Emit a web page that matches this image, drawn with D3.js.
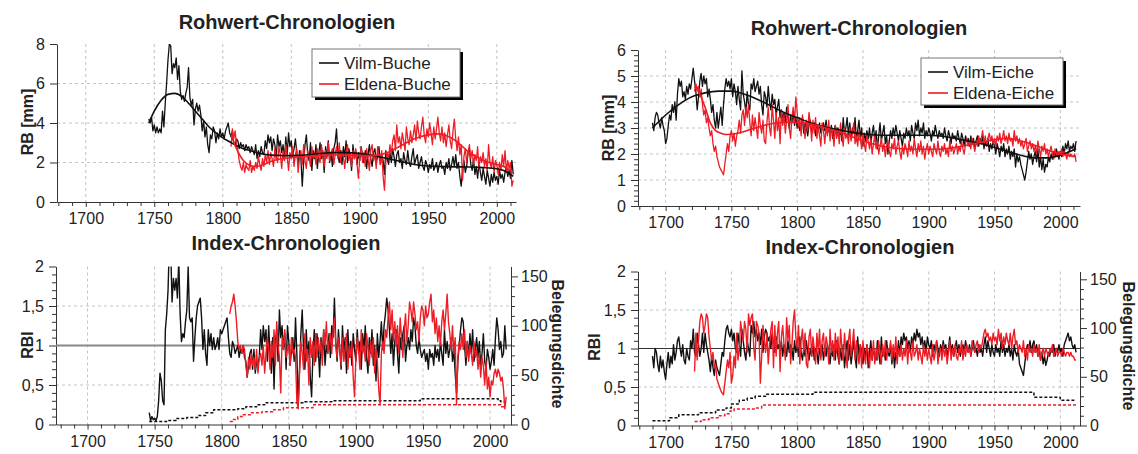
<!DOCTYPE html>
<html>
<head>
<meta charset="utf-8">
<script src="https://cdn.jsdelivr.net/npm/d3@7"></script>
<style>
  body { margin: 0; background: #fff; }
  svg { display: block; }
</style>
</head>
<body>
<svg id="chart" width="1138" height="454"></svg>
<script>
// ---------- data: raw ring widths (mm), one value per year ----------
const vilmBucheStart = 1746
const vilmBucheRaw = [
  4.2, 4.0, 4.3, 3.6,
  3.9, 3.5, 3.8, 3.5, 3.7, 3.5, 4.6, 3.8, 5.0, 6.0,
  7.2, 8.0, 7.9, 6.5, 7.0, 6.8, 7.3, 6.2, 6.9, 5.6,
  5.2, 5.4, 5.1, 5.5, 5.8, 6.8, 5.3, 4.9, 5.2, 3.9,
  4.7, 5.0, 4.6, 4.9, 4.4, 3.6, 4.1, 3.3, 3.8, 2.9,
  2.5, 3.4, 3.2, 3.8, 3.6, 3.0, 3.5, 3.2, 3.7, 3.3,
  3.5, 3.2, 3.6, 3.8, 4.0, 3.5, 3.3, 3.6, 3.0, 2.9,
  3.2, 3.1, 2.7, 3.0, 2.8, 2.9, 2.6, 2.9, 2.7, 2.8,
  2.5, 2.8, 2.6, 2.4, 2.9, 2.2, 2.6, 2.3, 2.8, 2.5,
  2.4, 3.1, 2.7, 3.4, 3.0, 3.3, 2.6, 3.2, 2.9, 2.2,
  3.4, 2.8, 3.1, 2.5, 2.9, 2.1, 3.3, 2.4, 3.5, 2.8,
  3.1, 2.3, 2.7, 3.2, 2.5, 1.9, 2.6, 2.2, 0.8, 2.0,
  2.9, 3.4, 2.4, 2.1, 3.0, 1.6, 2.6, 2.2, 2.9, 1.7,
  2.4, 3.0, 2.2, 2.6, 1.5, 2.8, 2.3, 3.1, 2.0, 2.5,
  1.8, 2.7, 3.0, 3.7, 2.4, 2.0, 2.6, 1.9, 2.8, 2.3,
  3.1, 2.0, 2.7, 2.4, 1.6, 2.9, 2.2, 2.6, 1.9, 2.5,
  2.1, 2.8, 2.3, 2.0, 2.6, 1.7, 2.4, 2.9, 2.2, 1.8,
  2.5, 2.7, 2.0, 2.3, 2.8, 1.9, 2.4, 2.1, 1.4, 2.6,
  2.2, 1.9, 2.5, 2.0, 2.7, 2.3, 1.8, 2.4, 2.6, 2.0,
  2.2, 1.7, 2.5, 2.1, 1.9, 2.6, 2.0, 1.8, 2.3, 2.7,
  1.9, 2.2, 2.4, 1.7, 2.0, 2.3, 1.8, 1.6, 2.1, 1.9,
  1.5, 1.9, 1.7, 2.2, 1.6, 1.8, 2.0, 1.5, 1.9, 2.1,
  1.7, 1.8, 1.4, 2.0, 1.7, 2.2, 1.6, 1.9, 2.3, 1.8,
  2.4, 1.7, 2.0, 1.3, 0.8, 1.6, 2.1, 1.5, 1.8, 2.5,
  2.7, 1.9, 1.6, 2.2, 1.4, 1.8, 1.2, 2.0, 1.5, 1.1,
  1.7, 1.3, 0.9, 1.6, 1.2, 0.8, 1.4, 1.0, 1.5, 1.1,
  1.3, 0.9, 1.6, 1.2, 1.4, 1.0, 1.5, 1.8, 1.3, 1.6,
  1.2, 2.1, 1.4
]
const vilmBucheSmoothYears = [1746, 1750, 1755, 1760, 1765, 1770, 1775, 1780, 1785, 1790, 1795, 1800, 1805, 1810, 1815, 1820, 1825, 1830, 1840, 1850, 1860, 1870, 1880, 1890, 1900, 1910, 1920, 1930, 1940, 1950, 1960, 1970, 1980, 1990, 2000, 2005, 2012]
const vilmBucheSmooth = [4.0, 4.6, 5.15, 5.45, 5.5, 5.35, 5.0, 4.6, 4.2, 3.8, 3.5, 3.25, 3.05, 2.85, 2.7, 2.6, 2.5, 2.42, 2.36, 2.35, 2.38, 2.45, 2.5, 2.5, 2.45, 2.35, 2.2, 2.05, 1.9, 1.82, 1.8, 1.78, 1.77, 1.74, 1.68, 1.6, 1.3]

const eldenaBucheStart = 1806
const eldenaBucheRaw = [
  2.8, 3.7, 3.2, 3.6,
  2.9, 2.6, 2.1, 1.8, 1.6, 2.0, 1.5, 1.9, 1.7, 1.6,
  2.1, 1.5, 1.8, 1.6, 2.0, 1.7, 2.3, 1.9, 1.6, 2.2,
  1.8, 2.4, 2.0, 2.6, 1.9, 2.5, 2.2, 1.8, 2.7, 2.3,
  2.0, 2.8, 2.4, 1.7, 2.6, 2.1, 2.9, 2.3, 1.6, 2.5,
  2.2, 2.8, 1.8, 2.4, 2.7, 1.5, 2.3, 2.6, 1.9, 2.9,
  2.1, 1.7, 2.6, 2.3, 1.8, 2.8, 2.2, 2.5, 1.9, 2.7,
  2.3, 2.0, 2.9, 2.4, 1.8, 2.6, 2.2, 3.0, 2.1, 2.5,
  2.7, 1.9, 2.4, 2.8, 2.2, 3.0, 2.0, 2.6, 2.3, 1.7,
  2.5, 2.9, 2.1, 2.4, 1.8, 2.6, 2.2, 2.7, 1.9, 1.2,
  2.3, 2.8, 2.0, 2.5, 1.8, 2.7, 2.2, 1.6, 2.6, 2.9,
  2.1, 2.4, 1.7, 2.8, 2.3, 1.9, 2.6, 1.3, 0.6, 2.0,
  2.5, 2.2, 2.9, 2.4, 3.1, 3.4, 2.6, 3.9, 3.0, 3.3,
  2.7, 3.5, 3.1, 2.6, 3.8, 3.2, 2.9, 3.6, 3.0, 3.4,
  3.9, 3.1, 4.1, 3.5, 3.2, 3.8, 4.3, 3.4, 3.0, 3.7,
  3.3, 4.0, 3.5, 2.9, 3.8, 3.2, 3.7, 4.3, 3.5, 3.1,
  3.8, 3.0, 3.5, 2.8, 3.4, 3.9, 3.1, 2.7, 3.6, 4.2,
  3.2, 2.6, 3.3, 2.4, 2.9, 1.1, 2.3, 2.7, 2.0, 2.5,
  2.9, 2.2, 2.6, 1.9, 2.4, 2.1, 2.8, 1.7, 2.3, 2.0,
  2.5, 1.8, 2.2, 1.6, 2.9, 2.0, 1.7, 2.3, 1.5, 2.1,
  1.9, 1.4, 2.0, 1.6, 2.4, 1.8, 2.6, 1.5, 2.1, 1.7,
  2.0, 0.8, 1.1
]
const eldenaBucheSmoothYears = [1806, 1810, 1815, 1820, 1825, 1830, 1835, 1840, 1850, 1860, 1870, 1880, 1890, 1900, 1910, 1920, 1930, 1940, 1950, 1958, 1965, 1970, 1975, 1980, 1985, 1990, 1995, 2000, 2005, 2012]
const eldenaBucheSmooth = [3.4, 2.7, 2.1, 1.85, 1.8, 1.9, 2.05, 2.15, 2.25, 2.3, 2.35, 2.38, 2.38, 2.35, 2.35, 2.5, 2.85, 3.2, 3.4, 3.45, 3.3, 3.1, 2.8, 2.5, 2.3, 2.1, 2.0, 1.9, 1.8, 1.5]

const vilmEicheStart = 1690
const vilmEicheRaw = [
  3.2, 2.9, 3.4, 3.6, 3.5, 3.2, 3.0, 3.4, 3.1, 2.9,
  2.4, 2.6, 3.1, 3.5, 3.3, 3.9, 3.6, 4.0, 3.3, 4.3,
  4.9, 4.6, 4.8, 4.2, 4.4, 4.1, 4.6, 4.3, 4.7, 4.5,
  4.9, 5.3, 4.8, 4.4, 3.7, 4.2, 4.8, 5.1, 4.6, 5.0,
  4.7, 4.9, 4.2, 4.5, 4.1, 3.6, 3.9, 3.3, 3.0, 3.6,
  3.0, 3.4, 3.8, 3.1, 3.9, 4.5, 4.9, 4.6, 4.8, 4.5,
  4.9, 4.2, 4.7, 4.4, 3.9, 4.6, 4.1, 3.7, 5.2, 4.3,
  4.0, 3.6, 4.4, 3.9, 3.7, 4.7, 4.5, 4.9, 4.4, 4.6,
  4.8, 4.3, 4.6, 3.9, 3.5, 4.4, 4.2, 3.8, 4.6, 4.0,
  3.7, 4.3, 3.9, 4.1, 3.5, 3.8, 4.1, 3.4, 3.7, 3.3,
  3.6, 3.2, 3.8, 3.4, 3.0, 3.5, 3.2, 3.6, 3.1, 3.4,
  3.0, 3.3, 2.9, 3.1, 3.4, 2.8, 3.2, 3.0, 2.7, 3.1,
  3.3, 2.8, 3.0, 3.2, 2.7, 3.1, 2.9, 3.2, 2.8, 3.0,
  3.2, 2.9, 3.3, 2.8, 3.0, 2.7, 3.1, 2.6, 2.9, 3.1,
  2.8, 3.0, 2.7, 2.9, 2.5, 3.4, 2.8, 3.0, 3.4, 2.7,
  3.2, 2.6, 3.0, 2.8, 3.4, 2.5, 2.9, 3.3, 2.6, 3.0,
  2.3, 2.8, 2.5, 2.9, 2.6, 3.0, 2.4, 2.8, 3.1, 2.5,
  2.9, 2.2, 2.7, 3.2, 2.5, 2.8, 3.1, 2.4, 2.7, 2.0,
  2.5, 2.9, 2.6, 3.0, 2.7, 3.1, 2.8, 2.5, 2.9, 2.6,
  2.3, 2.8, 2.6, 3.0, 2.7, 2.9, 2.5, 3.1, 2.8, 2.6,
  3.2, 2.9, 3.3, 2.7, 3.0, 2.8, 3.2, 2.6, 2.9, 2.7,
  3.0, 2.8, 2.5, 2.9, 2.7, 3.1, 2.8, 2.6, 2.9, 2.7,
  2.8, 2.6, 3.0, 2.7, 2.5, 2.9, 2.7, 2.4, 2.8, 2.6,
  2.7, 2.5, 2.9, 2.6, 2.4, 2.8, 2.6, 2.3, 2.7, 2.5,
  2.6, 2.3, 2.7, 2.4, 2.6, 2.2, 2.5, 2.7, 2.3, 2.6,
  2.4, 2.7, 2.2, 2.5, 2.3, 2.6, 2.1, 2.4, 2.2, 2.5,
  2.3, 2.0, 2.4, 2.2, 1.9, 2.3, 2.1, 2.4, 1.9, 2.2,
  2.0, 2.3, 1.8, 2.1, 1.9, 2.2, 1.5, 2.0, 1.7, 1.9,
  1.6, 1.4, 1.2, 1.0, 1.3, 1.7, 2.1, 1.8, 2.0, 1.6,
  1.9, 2.1, 1.7, 2.2, 1.5, 1.9, 1.4, 1.8, 1.3, 1.6,
  1.5, 1.9, 1.7, 2.0, 1.8, 2.1, 1.9, 2.2, 2.0, 1.8,
  2.1, 1.9, 2.3, 2.0, 2.4, 2.2, 2.5, 2.1, 2.3, 2.2,
  2.4, 2.1, 2.5
]
const vilmEicheSmoothYears = [1690, 1700, 1710, 1720, 1730, 1740, 1750, 1760, 1770, 1780, 1790, 1800, 1810, 1820, 1830, 1840, 1850, 1860, 1870, 1880, 1890, 1900, 1910, 1920, 1930, 1940, 1950, 1960, 1970, 1980, 1990, 2000, 2012]
const vilmEicheSmooth = [3.0, 3.5, 3.9, 4.2, 4.35, 4.42, 4.42, 4.3, 4.1, 3.85, 3.6, 3.4, 3.2, 3.05, 2.95, 2.85, 2.78, 2.73, 2.72, 2.72, 2.72, 2.72, 2.68, 2.6, 2.5, 2.4, 2.25, 2.1, 1.95, 1.85, 1.85, 1.95, 2.2]

const eldenaEicheStart = 1722
const eldenaEicheRaw = [
  4.4, 4.7, 4.5, 4.6, 4.2, 4.5, 3.9, 3.5,
  3.7, 3.2, 3.4, 3.0, 2.7, 2.9, 2.4, 2.1, 2.3, 1.9,
  1.7, 1.5, 1.4, 1.3, 1.2, 1.6, 2.0, 2.4, 2.1, 2.7,
  2.9, 2.5, 2.8, 2.3, 2.7, 2.9, 3.3, 2.8, 3.5, 3.7,
  3.1, 3.8, 3.4, 3.9, 3.2, 2.7, 3.5, 2.9, 3.4, 3.0,
  2.6, 3.6, 3.1, 2.8, 3.3, 2.5, 2.4, 3.2, 3.8, 3.0,
  2.7, 3.9, 3.3, 2.6, 3.6, 2.9, 3.4, 2.4, 3.7, 3.1,
  3.5, 2.8, 3.3, 3.9, 3.0, 2.6, 3.4, 3.8, 3.2, 4.2,
  3.6, 3.0, 3.4, 2.7, 3.5, 3.1, 2.6, 3.3, 2.9, 3.6,
  3.2, 2.5, 3.3, 2.8, 3.4, 2.6, 3.1, 2.7, 2.3, 3.2,
  2.9, 2.4, 3.1, 2.7, 3.3, 2.5, 3.0, 2.8, 2.3, 3.1,
  2.6, 2.9, 2.4, 3.2, 2.7, 2.3, 3.0, 2.6, 2.8, 2.4,
  3.0, 2.5, 2.8, 3.2, 2.4, 2.7, 2.3, 2.9, 2.6, 2.2,
  2.8, 2.4, 2.1, 2.7, 2.5, 2.2, 2.6, 2.0, 2.4, 2.7,
  2.2, 2.5, 2.0, 2.3, 2.6, 2.1, 2.4, 1.9, 2.3, 2.5,
  2.1, 1.9, 2.4, 2.2, 2.6, 2.0, 2.3, 2.5, 2.1, 1.8,
  2.3, 2.0, 2.4, 2.2, 1.9, 2.5, 2.1, 2.3, 2.0, 2.6,
  2.2, 1.9, 2.4, 2.1, 2.5, 2.0, 2.3, 1.8, 2.2, 2.4,
  2.0, 2.3, 2.1, 1.9, 2.4, 2.2, 2.0, 2.5, 2.1, 1.9,
  2.3, 2.1, 2.4, 2.0, 2.2, 1.9, 2.5, 2.1, 2.3, 2.0,
  2.2, 2.4, 2.0, 2.3, 2.1, 2.5, 2.2, 2.0, 2.4, 2.6,
  2.3, 2.5, 2.2, 2.6, 2.4, 2.1, 2.5, 2.3, 2.7, 2.4,
  2.6, 2.9, 2.4, 2.7, 2.3, 2.6, 2.8, 2.5, 2.7, 2.4,
  2.6, 2.3, 2.7, 2.5, 2.8, 2.4, 2.6, 2.9, 2.5, 2.7,
  2.4, 2.8, 2.5, 2.6, 2.3, 2.9, 2.5, 2.7, 2.4, 2.6,
  2.3, 2.5, 2.2, 2.4, 2.6, 2.1, 2.3, 2.5, 2.2, 2.4,
  2.1, 2.3, 2.0, 2.5, 2.2, 1.9, 2.3, 2.1, 2.4, 2.0,
  2.2, 1.9, 2.1, 2.3, 2.0, 1.8, 2.2, 2.0, 1.9, 2.1,
  2.0, 2.2, 1.9, 2.1, 2.0, 1.8, 2.1, 1.9, 2.0, 1.9,
  1.9, 2.0, 1.7
]
const eldenaEicheSmoothYears = [1722, 1726, 1730, 1734, 1738, 1742, 1746, 1755, 1765, 1775, 1785, 1795, 1805, 1815, 1825, 1835, 1845, 1855, 1865, 1875, 1890, 1905, 1920, 1935, 1950, 1960, 1970, 1980, 1990, 2000, 2012]
const eldenaEicheSmooth = [4.6, 4.3, 3.8, 3.2, 2.9, 2.8, 2.75, 2.8, 2.95, 3.1, 3.2, 3.22, 3.2, 3.1, 2.95, 2.8, 2.6, 2.42, 2.3, 2.22, 2.18, 2.18, 2.25, 2.4, 2.55, 2.6, 2.5, 2.35, 2.15, 2.0, 1.9]

// ---------- data: index chronologies (RBI) ----------
const vilmBucheIndex = [
  0.15, 0.05, 0.1, 0.06,
  0.08, 0.05, 0.1, 0.3, 0.65, 0.55, 0.3, 0.25, 1.2, 1.4,
  1.7, 2.3, 2.2, 1.55, 1.85, 1.7, 1.85, 1.6, 2.1, 1.4,
  1.05, 1.15, 1.1, 1.3, 1.45, 2.0, 1.35, 1.3, 1.35, 0.8,
  1.1, 1.35, 1.5, 1.55, 1.6, 1.35, 0.95, 1.2, 0.9, 0.75,
  1.2, 1.0, 1.15, 0.95, 1.1, 0.95, 1.0, 1.1, 0.95, 1.2,
  1.15, 1.2, 1.25, 1.3, 1.35, 1.1, 0.9, 0.85, 1.05, 1.0,
  0.9, 0.95, 1.0, 0.85, 0.95, 0.9, 1.0, 0.85, 0.8, 0.6,
  0.75, 0.9, 0.95, 0.7, 0.95, 0.65, 0.8, 0.75, 0.85, 1.2,
  0.95, 1.25, 1.05, 1.2, 0.8, 1.25, 0.9, 0.65, 1.1, 0.45,
  1.05, 1.2, 0.8, 1.45, 1.1, 1.25, 0.95, 1.15, 0.7, 1.25,
  1.05, 0.75, 0.95, 1.1, 0.8, 1.35, 0.9, 0.25, 0.7, 1.15,
  1.45, 0.95, 0.7, 1.2, 0.85, 1.05, 0.6, 0.35, 0.9, 1.2,
  0.8, 1.15, 0.95, 0.6, 1.1, 0.85, 1.2, 0.75, 1.0, 0.9,
  1.15, 0.85, 1.25, 1.1, 1.6, 1.05, 0.8, 1.2, 0.95, 0.7,
  1.25, 0.9, 1.1, 0.65, 1.2, 0.85, 1.05, 0.75, 1.15, 0.95,
  0.8, 1.2, 0.9, 1.05, 0.7, 1.15, 0.95, 1.25, 0.85, 0.65,
  1.1, 0.9, 1.2, 0.75, 1.0, 0.55, 1.15, 0.85, 1.05, 1.3,
  0.95, 1.25, 1.4, 1.6, 1.45, 1.2, 0.9, 1.15, 0.75, 1.05,
  1.2, 0.9, 0.65, 1.1, 0.95, 1.15, 1.25, 0.8, 1.0, 1.1,
  0.95, 1.2, 1.05, 1.35, 1.25, 1.0, 0.9, 1.1, 0.95, 0.85,
  0.9, 0.95, 0.8, 0.9, 0.7, 0.95, 0.85, 0.9, 0.75, 1.0,
  0.85, 0.95, 0.8, 1.05, 0.9, 0.75, 1.2, 0.9, 1.05, 0.85,
  0.95, 1.1, 0.8, 0.95, 0.65, 0.4, 0.8, 1.0, 1.2, 1.35,
  1.3, 1.0, 0.75, 1.05, 0.85, 1.15, 0.9, 1.2, 0.8, 0.95,
  1.1, 0.85, 1.05, 0.75, 0.9, 1.15, 0.8, 0.7, 0.95, 0.85,
  0.7, 0.8, 0.95, 0.75, 1.1, 1.35, 1.2, 0.95, 1.05, 0.85,
  0.9, 1.25, 0.95
]
const eldenaBucheIndex = [
  1.4, 1.5, 1.55, 1.65,
  1.5, 1.3, 1.05, 0.95, 1.0, 0.9, 1.0, 0.95, 0.75, 0.6,
  0.85, 0.7, 0.9, 0.75, 0.85, 0.7, 0.95, 0.65, 0.85, 0.9,
  0.75, 1.0, 0.65, 0.9, 1.1, 0.95, 0.7, 1.05, 0.85, 1.2,
  0.75, 1.3, 1.0, 0.85, 0.4, 1.1, 0.95, 1.2, 0.85, 0.95,
  1.0, 0.75, 1.1, 0.9, 0.95, 0.85, 0.3, 0.2, 0.65, 1.05,
  0.9, 0.7, 1.15, 0.8, 0.95, 0.5, 1.1, 0.85, 1.05, 0.75,
  1.15, 0.85, 1.1, 0.9, 1.05, 0.75, 1.2, 1.0, 1.3, 0.9,
  1.05, 1.15, 0.9, 1.2, 1.35, 1.0, 0.85, 1.1, 0.95, 0.75,
  1.1, 0.8, 0.95, 1.15, 0.7, 1.0, 0.85, 1.05, 0.6, 0.35,
  0.85, 1.1, 0.95, 0.7, 1.2, 0.9, 1.0, 0.8, 1.15, 0.95,
  0.75, 1.05, 0.85, 1.1, 0.65, 0.95, 0.8, 0.45, 0.25, 0.9,
  1.05, 0.9, 1.2, 1.1, 1.35, 1.55, 1.2, 1.45, 1.05, 1.3,
  1.0, 1.25, 0.9, 1.35, 1.1, 0.85, 1.2, 1.4, 1.05, 1.25,
  1.55, 1.45, 1.3, 1.55, 1.4, 1.2, 1.3, 1.05, 1.35, 1.5,
  1.45, 1.25, 1.5, 1.35, 1.4, 1.55, 1.65, 1.3, 1.45, 1.15,
  1.35, 1.05, 1.25, 1.0, 1.3, 1.45, 1.2, 1.4, 1.65, 1.3,
  1.15, 0.95, 1.25, 0.9, 1.1, 0.25, 0.85, 1.05, 0.95, 1.15,
  0.95, 1.2, 0.85, 1.05, 0.8, 1.0, 0.9, 0.75, 1.05, 0.85,
  0.95, 0.7, 0.9, 0.6, 0.85, 0.75, 0.5, 0.8, 0.45, 0.6,
  0.35, 0.55, 0.5, 0.65, 0.7, 0.6, 0.7, 0.65, 0.55, 0.6,
  0.45, 0.2, 0.35
]
const vilmEicheIndex = [
  0.9, 0.75, 1.0, 0.95, 0.8, 0.7, 0.9, 0.75, 0.85, 0.7,
  0.6, 0.8, 0.95, 0.75, 0.9, 0.8, 1.05, 0.85, 0.95, 1.1,
  1.15, 1.0, 0.9, 1.05, 0.85, 0.8, 1.0, 0.9, 0.85, 1.1,
  1.0, 1.25, 0.95, 0.9, 1.2, 1.05, 0.9, 1.0, 1.2, 0.95,
  1.2, 1.05, 0.95, 0.85, 0.7, 0.9, 0.75, 0.65, 0.85, 0.75,
  0.7, 0.65, 0.8, 0.95, 0.9, 1.1, 1.25, 1.3, 1.2, 1.15,
  1.25, 1.1, 1.2, 1.0, 0.95, 1.2, 1.05, 0.9, 1.25, 1.1,
  0.95, 0.85, 1.1, 1.0, 0.9, 1.3, 1.2, 1.35, 1.15, 1.25,
  1.1, 1.2, 1.05, 1.25, 0.95, 1.15, 1.25, 1.2, 1.1, 1.15,
  1.0, 1.2, 1.05, 0.95, 1.15, 1.0, 1.05, 0.95, 1.1, 0.9,
  1.05, 1.0, 0.9, 1.1, 0.95, 1.05, 1.0, 0.85, 1.1, 0.95,
  1.05, 0.9, 1.15, 0.95, 0.85, 1.0, 0.9, 1.1, 0.95, 0.85,
  1.0, 0.9, 1.05, 0.85, 1.0, 0.95, 0.8, 1.0, 0.9, 1.05,
  0.85, 1.0, 0.9, 1.05, 0.95, 0.8, 1.0, 0.9, 1.05, 0.85,
  1.1, 0.9, 0.8, 1.0, 0.85, 1.05, 0.75, 0.95, 1.1, 0.85,
  1.05, 0.8, 0.95, 1.1, 0.9, 0.75, 1.15, 0.9, 1.05, 0.95,
  0.8, 1.0, 0.9, 1.05, 0.75, 0.95, 1.1, 0.85, 1.0, 0.9,
  0.85, 1.1, 0.95, 0.8, 1.15, 0.9, 1.0, 0.85, 1.1, 0.95,
  0.9, 1.05, 0.8, 1.0, 0.75, 0.95, 0.85, 1.1, 0.9, 1.15,
  1.05, 1.2, 1.1, 1.15, 1.0, 1.1, 0.95, 1.15, 1.05, 1.2,
  1.1, 1.25, 1.15, 1.2, 1.05, 1.15, 1.0, 1.1, 0.95, 1.15,
  1.05, 1.0, 1.1, 0.9, 1.05, 0.95, 1.1, 1.0, 0.9, 1.05,
  0.95, 1.1, 1.0, 1.05, 0.9, 1.0, 1.15, 0.95, 1.05, 0.9,
  1.0, 1.1, 0.95, 1.05, 0.9, 1.0, 1.05, 0.95, 1.1, 1.0,
  0.95, 1.05, 0.9, 1.0, 1.1, 0.95, 1.0, 0.9, 1.05, 0.95,
  1.0, 0.9, 1.05, 1.15, 0.95, 1.1, 1.0, 0.9, 1.05, 0.95,
  0.9, 1.05, 0.95, 1.0, 0.9, 1.1, 0.95, 1.05, 0.9, 1.0,
  0.95, 1.05, 0.9, 1.0, 0.85, 1.05, 0.95, 0.9, 1.0, 0.8,
  0.75, 0.7, 0.65, 0.8, 0.95, 1.05, 1.0, 1.1, 0.95, 1.05,
  1.1, 0.95, 1.05, 0.9, 1.0, 0.85, 0.95, 0.8, 0.9, 0.78,
  0.85, 0.95, 0.9, 1.0, 0.95, 1.05, 0.9, 1.0, 0.95, 1.05,
  0.95, 1.0, 0.9, 1.05, 1.1, 1.15, 1.2, 1.1, 1.15, 1.05,
  1.0, 1.05, 0.95
]
const eldenaEicheIndex = [
  0.7, 1.2, 0.85, 1.1, 1.35, 1.45, 1.4, 1.2,
  1.3, 1.45, 1.4, 1.15, 1.0, 0.85, 0.95, 0.75, 0.8, 0.6,
  0.55, 0.5, 0.45, 0.42, 0.4, 0.55, 0.7, 0.85, 0.75, 0.95,
  0.55, 0.65, 0.9, 0.75, 1.2, 0.85, 1.0, 1.35, 1.2, 1.1,
  1.35, 1.25, 0.95, 1.45, 1.3, 1.4, 1.45, 1.0, 0.85, 1.35,
  1.3, 1.2, 0.55, 0.9, 1.3, 1.1, 0.95, 1.2, 0.8, 1.05,
  1.25, 1.35, 0.75, 1.3, 0.9, 1.2, 1.35, 0.7, 1.15, 1.3,
  1.05, 0.85, 1.4, 1.1, 1.3, 0.8, 1.05, 1.35, 1.5, 1.15,
  1.0, 1.3, 0.8, 1.1, 1.25, 0.95, 1.2, 0.8, 0.75, 1.15,
  1.25, 0.9, 1.15, 1.0, 0.8, 1.2, 0.95, 1.25, 0.85, 1.1,
  1.2, 0.9, 1.15, 1.05, 0.8, 1.25, 0.95, 1.1, 0.85, 1.2,
  0.95, 1.15, 0.8, 1.25, 1.0, 0.85, 1.2, 0.95, 0.75, 1.1,
  1.25, 0.9, 1.05, 1.25, 0.85, 1.1, 0.95, 0.8, 1.05, 0.75,
  1.1, 0.9, 0.8, 1.05, 0.95, 0.75, 1.0, 0.85, 1.1, 0.8,
  1.0, 0.85, 1.1, 0.95, 0.8, 1.05, 0.9, 1.1, 0.85, 1.0,
  0.95, 1.1, 0.85, 1.05, 0.9, 1.15, 0.8, 1.0, 0.9, 1.05,
  0.85, 1.0, 0.9, 1.1, 0.8, 1.05, 0.95, 0.85, 1.1, 0.9,
  0.95, 1.05, 0.85, 1.0, 0.9, 0.8, 1.05, 0.9, 1.0, 0.85,
  1.0, 0.9, 0.8, 1.05, 0.85, 0.95, 1.1, 0.8, 0.95, 1.0,
  0.85, 1.05, 0.9, 1.0, 0.8, 0.95, 1.1, 0.85, 1.0, 0.9,
  1.05, 0.9, 0.85, 1.0, 0.95, 1.1, 0.85, 1.0, 0.9, 1.05,
  0.95, 1.0, 0.9, 1.1, 1.0, 0.95, 1.05, 1.1, 0.95, 1.05,
  1.0, 1.1, 1.2, 1.25, 1.15, 1.2, 1.1, 1.15, 1.05, 1.2,
  1.1, 1.15, 1.05, 1.25, 1.1, 1.2, 1.0, 1.15, 1.05, 1.2,
  1.1, 1.05, 1.2, 1.0, 1.15, 1.25, 1.05, 1.1, 0.95, 1.05,
  1.0, 0.95, 1.1, 0.9, 1.0, 0.85, 1.05, 0.95, 1.0, 0.9,
  1.05, 0.95, 1.0, 0.9, 1.05, 0.85, 0.95, 1.0, 0.9, 1.0,
  0.95, 0.9, 1.0, 0.95, 1.05, 0.9, 0.95, 1.0, 0.9, 0.95,
  0.95, 0.9, 1.0, 0.95, 0.9, 0.95, 0.95, 0.9, 0.95, 0.9,
  0.9, 0.85, 0.85
]

// ---------- data: sample depth (Belegungsdichte), step change points ----------
const vilmBucheDepthYears = [1746, 1760, 1766, 1774, 1782, 1788, 1794, 1812, 1818, 1826, 1832, 1862, 1882, 1948, 2006, 2008, 2012]
const vilmBucheDepth = [3, 4, 6, 7, 9, 12, 15, 16, 18, 20, 22, 23, 24, 26, 24, 23, 23]
const eldenaBucheDepthYears = [1806, 1808, 1812, 1816, 1822, 1830, 1838, 1846, 1868, 2008, 2012]
const eldenaBucheDepth = [3, 5, 8, 10, 12, 13, 15, 17, 20, 18, 18]
const vilmEicheDepthYears = [1690, 1703, 1710, 1725, 1738, 1746, 1750, 1756, 1762, 1768, 1776, 1812, 1980, 2000, 2012]
const vilmEicheDepth = [5, 8, 11, 13, 16, 18, 22, 26, 28, 30, 32, 34, 29, 26, 26]
const eldenaEicheDepthYears = [1722, 1727, 1733, 1740, 1745, 1749, 1752, 1768, 1773, 2012]
const eldenaEicheDepth = [4, 6, 8, 10, 12, 15, 17, 18, 21, 21]

// ---------- axis ticks ----------
const yearTicks = [1700, 1750, 1800, 1850, 1900, 1950, 2000]
const yearMinor = d3.range(1680, 2011, 10).filter(d => !yearTicks.includes(d))

// ---------- layout ----------
const FONT = '"Liberation Sans", Arial, sans-serif'
const BLACK = "#111"
const RED = "#ee1c25"
const TICK_FS = 16
const svg = d3.select("#chart")

const toPoints = (start, vals) => vals.map((v, i) => [start + i, v])
const zipPoints = (years, vals) => years.map((yr, i) => [yr, vals[i]])

function addPanel(p) {
  const x = d3.scaleLinear().domain(p.xDomain).range([p.left, p.right])
  const y = d3.scaleLinear().domain(p.yDomain).range([p.bottom, p.top])
  const g = svg.append("g")

  svg.append("clipPath").attr("id", `clip-${p.id}`)
    .append("rect")
      .attr("x", p.left).attr("y", p.top)
      .attr("width", p.right - p.left).attr("height", p.bottom - p.top)

  // dashed grid
  g.append("g").selectAll("line")
    .data(yearTicks)
    .join("line")
      .attr("x1", d => x(d)).attr("x2", d => x(d))
      .attr("y1", p.top).attr("y2", p.bottom)
  g.append("g").selectAll("line")
    .data(p.yGrid)
    .join("line")
      .attr("x1", p.left).attr("x2", p.right)
      .attr("y1", d => y(d)).attr("y2", d => y(d))
  g.selectAll("line")
    .attr("stroke", "#c4c4c4")
    .attr("stroke-width", 1)
    .attr("stroke-dasharray", "3,3")

  // x axis
  const xa = g.append("g").attr("transform", `translate(0,${p.bottom})`)
  xa.append("g")
    .call(d3.axisBottom(x).tickValues(yearMinor).tickSize(4).tickSizeOuter(0).tickFormat(""))
    .call(a => a.select(".domain").remove())
  xa.append("g")
    .call(d3.axisBottom(x).tickValues(yearTicks).tickSize(5).tickSizeOuter(0).tickPadding(6).tickFormat(d3.format("d")))

  // y axis
  const ya = g.append("g").attr("transform", `translate(${p.left},0)`)
  if (p.yMinor) {
    ya.append("g")
      .call(d3.axisLeft(y).tickValues(p.yMinor).tickSize(4).tickSizeOuter(0).tickFormat(""))
      .call(a => a.select(".domain").remove())
  }
  ya.append("g")
    .call(d3.axisLeft(y).tickValues(p.yTicks).tickSize(7).tickSizeOuter(0).tickPadding(5)
      .tickFormat(d => String(d).replace(".", ",")))

  g.selectAll(".domain, .tick line").attr("stroke", "#333")
  g.selectAll(".tick text").attr("font-family", FONT).attr("font-size", TICK_FS).attr("fill", "#222")

  const plot = g.append("g").attr("clip-path", `url(#clip-${p.id})`)

  svg.append("text")
    .attr("x", p.titleX).attr("y", p.titleY)
    .attr("text-anchor", "middle")
    .attr("font-family", FONT).attr("font-weight", "bold").attr("font-size", 20)
    .attr("fill", "#222")
    .text(p.title)

  svg.append("text")
    .attr("transform", `translate(${p.yLabelX},${p.yLabelY}) rotate(-90)`)
    .attr("text-anchor", "middle").attr("dy", "0.35em")
    .attr("font-family", FONT).attr("font-weight", "bold").attr("font-size", 16)
    .attr("fill", "#222")
    .text(p.yLabel)

  return { x, y, g, plot }
}

function addDepthAxis(p, panel) {
  const y2 = d3.scaleLinear().domain(p.y2Domain).range([p.bottom, p.top])
  const ra = panel.g.append("g").attr("transform", `translate(${p.right},0)`)
  ra.append("g")
    .call(d3.axisRight(y2).tickValues(d3.range(10, 160, 10).filter(d => d % 50)).tickSize(4).tickSizeOuter(0).tickFormat(""))
    .call(a => a.select(".domain").remove())
  ra.append("g")
    .call(d3.axisRight(y2).tickValues([0, 50, 100, 150]).tickSize(7).tickSizeOuter(0).tickPadding(3))
  ra.selectAll(".domain, .tick line").attr("stroke", "#333")
  ra.selectAll(".tick text").attr("font-family", FONT).attr("font-size", TICK_FS).attr("fill", "#222")

  svg.append("text")
    .attr("transform", `translate(${p.y2LabelX},${p.y2LabelY}) rotate(90)`)
    .attr("text-anchor", "middle").attr("dy", "0.35em")
    .attr("font-family", FONT).attr("font-weight", "bold").attr("font-size", 16)
    .attr("fill", "#222")
    .text("Belegungsdichte")
  return y2
}

function drawPath(plot, pts, gen, color, width, dash) {
  plot.append("path")
    .datum(pts)
    .attr("d", gen)
    .attr("fill", "none")
    .attr("stroke", color)
    .attr("stroke-width", width)
    .attr("stroke-linejoin", "round")
    .attr("stroke-dasharray", dash || null)
}

function addLegend(lg, items) {
  const g = svg.append("g").attr("transform", `translate(${lg.x},${lg.y})`)
  g.append("rect").attr("x", 3).attr("y", 3).attr("width", lg.w).attr("height", lg.h).attr("fill", "#000")
  g.append("rect").attr("width", lg.w).attr("height", lg.h).attr("fill", "#fff").attr("stroke", "#777")
  items.forEach((it, i) => {
    const cy = 14 + i * 21
    g.append("line").attr("x1", 7).attr("x2", 27).attr("y1", cy).attr("y2", cy)
      .attr("stroke", it.color).attr("stroke-width", 1.6)
    g.append("text").attr("x", 32).attr("y", cy).attr("dy", "0.35em")
      .attr("font-family", FONT).attr("font-size", 17).attr("fill", "#222")
      .text(it.label)
  })
}

// ---------- panels ----------
const tl = {
  id: "tl", left: 57, right: 516, top: 44, bottom: 202,
  xDomain: [1679, 2014], yDomain: [0, 8], yTicks: [0, 2, 4, 6, 8], yGrid: [2, 4, 6],
  title: "Rohwert-Chronologien", titleX: 287, titleY: 29,
  yLabel: "RB [mm]", yLabelX: 27, yLabelY: 122
}
const tr = {
  id: "tr", left: 638, right: 1080, top: 50, bottom: 206,
  xDomain: [1679, 2015], yDomain: [0, 6], yTicks: [0, 1, 2, 3, 4, 5, 6], yGrid: [1, 2, 3, 4, 5],
  yMinor: d3.range(0.2, 6, 0.2).filter(d => Math.abs(d - Math.round(d)) > 0.01),
  title: "Rohwert-Chronologien", titleX: 859, titleY: 35,
  yLabel: "RB [mm]", yLabelX: 608, yLabelY: 128
}
const bl = {
  id: "bl", left: 56, right: 511, top: 266.5, bottom: 424.5,
  xDomain: [1676.5, 2015.6], yDomain: [0, 2], yTicks: [0, 0.5, 1, 1.5, 2], yGrid: [0.5, 1.5],
  yMinor: d3.range(0.1, 2, 0.1).filter(d => Math.abs(d * 2 - Math.round(d * 2)) > 0.01),
  y2Domain: [0, 160], y2LabelX: 558, y2LabelY: 344,
  title: "Index-Chronologien", titleX: 286, titleY: 250,
  yLabel: "RBI", yLabelX: 27, yLabelY: 345
}
const br = {
  id: "br", left: 638, right: 1080, top: 271.5, bottom: 425.5,
  xDomain: [1679, 2015], yDomain: [0, 2], yTicks: [0, 0.5, 1, 1.5, 2], yGrid: [0.5, 1.5],
  yMinor: d3.range(0.1, 2, 0.1).filter(d => Math.abs(d * 2 - Math.round(d * 2)) > 0.01),
  y2Domain: [0, 158], y2LabelX: 1129, y2LabelY: 346,
  title: "Index-Chronologien", titleX: 860, titleY: 254,
  yLabel: "RBI", yLabelX: 594, yLabelY: 347
}

// top left: beech raw widths
{
  const P = addPanel(tl)
  const line = d3.line().x(d => P.x(d[0])).y(d => P.y(d[1]))
  const smooth = d3.line().x(d => P.x(d[0])).y(d => P.y(d[1])).curve(d3.curveMonotoneX)
  drawPath(P.plot, toPoints(vilmBucheStart, vilmBucheRaw), line, BLACK, 1.3)
  drawPath(P.plot, toPoints(eldenaBucheStart, eldenaBucheRaw), line, RED, 1.3)
  drawPath(P.plot, zipPoints(vilmBucheSmoothYears, vilmBucheSmooth), smooth, BLACK, 1.6)
  drawPath(P.plot, zipPoints(eldenaBucheSmoothYears, eldenaBucheSmooth), smooth, RED, 1.6)
  addLegend({ x: 312, y: 49, w: 148, h: 48 }, [
    { label: "Vilm-Buche", color: BLACK },
    { label: "Eldena-Buche", color: RED }
  ])
}

// top right: oak raw widths
{
  const P = addPanel(tr)
  const line = d3.line().x(d => P.x(d[0])).y(d => P.y(d[1]))
  const smooth = d3.line().x(d => P.x(d[0])).y(d => P.y(d[1])).curve(d3.curveMonotoneX)
  drawPath(P.plot, toPoints(vilmEicheStart, vilmEicheRaw), line, BLACK, 1.3)
  drawPath(P.plot, toPoints(eldenaEicheStart, eldenaEicheRaw), line, RED, 1.3)
  drawPath(P.plot, zipPoints(vilmEicheSmoothYears, vilmEicheSmooth), smooth, BLACK, 1.6)
  drawPath(P.plot, zipPoints(eldenaEicheSmoothYears, eldenaEicheSmooth), smooth, RED, 1.6)
  addLegend({ x: 921, y: 58, w: 142, h: 47 }, [
    { label: "Vilm-Eiche", color: BLACK },
    { label: "Eldena-Eiche", color: RED }
  ])
}

// bottom left: beech index + sample depth
{
  const P = addPanel(bl)
  const y2 = addDepthAxis(bl, P)
  const line = d3.line().x(d => P.x(d[0])).y(d => P.y(d[1]))
  const step = d3.line().x(d => P.x(d[0])).y(d => y2(d[1])).curve(d3.curveStepAfter)
  P.plot.append("line")
    .attr("x1", bl.left).attr("x2", bl.right).attr("y1", P.y(1)).attr("y2", P.y(1))
    .attr("stroke", "#888").attr("stroke-width", 2)
  drawPath(P.plot, zipPoints(vilmBucheDepthYears, vilmBucheDepth), step, BLACK, 1.5, "3,2")
  drawPath(P.plot, zipPoints(eldenaBucheDepthYears, eldenaBucheDepth), step, RED, 1.5, "3,2")
  drawPath(P.plot, toPoints(vilmBucheStart, vilmBucheIndex), line, BLACK, 1.4)
  drawPath(P.plot, toPoints(eldenaBucheStart, eldenaBucheIndex), line, RED, 1.4)
}

// bottom right: oak index + sample depth
{
  const P = addPanel(br)
  const y2 = addDepthAxis(br, P)
  const line = d3.line().x(d => P.x(d[0])).y(d => P.y(d[1]))
  const step = d3.line().x(d => P.x(d[0])).y(d => y2(d[1])).curve(d3.curveStepAfter)
  P.plot.append("line")
    .attr("x1", br.left).attr("x2", br.right).attr("y1", P.y(1)).attr("y2", P.y(1))
    .attr("stroke", "#333").attr("stroke-width", 1.2)
  drawPath(P.plot, zipPoints(vilmEicheDepthYears, vilmEicheDepth), step, BLACK, 1.5, "3,2")
  drawPath(P.plot, zipPoints(eldenaEicheDepthYears, eldenaEicheDepth), step, RED, 1.5, "3,2")
  drawPath(P.plot, toPoints(vilmEicheStart, vilmEicheIndex), line, BLACK, 1.4)
  drawPath(P.plot, toPoints(eldenaEicheStart, eldenaEicheIndex), line, RED, 1.4)
}
</script>
</body>
</html>
